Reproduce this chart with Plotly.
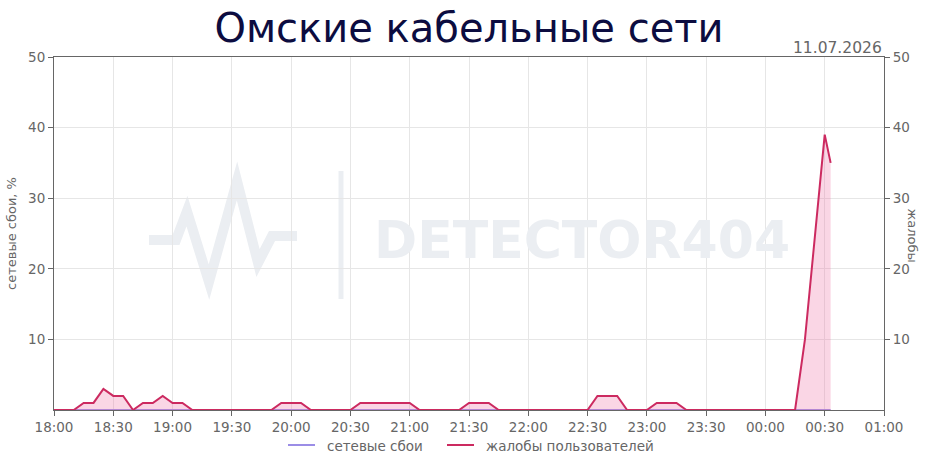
import plotly.graph_objects as go

# time stamps (every 5 minutes, last sample at 00:33)
times = [
    "2026-07-11 18:00", "2026-07-11 18:05", "2026-07-11 18:10", "2026-07-11 18:15",
    "2026-07-11 18:20", "2026-07-11 18:25", "2026-07-11 18:30", "2026-07-11 18:35",
    "2026-07-11 18:40", "2026-07-11 18:45", "2026-07-11 18:50", "2026-07-11 18:55",
    "2026-07-11 19:00", "2026-07-11 19:05", "2026-07-11 19:10", "2026-07-11 19:15",
    "2026-07-11 19:20", "2026-07-11 19:25", "2026-07-11 19:30", "2026-07-11 19:35",
    "2026-07-11 19:40", "2026-07-11 19:45", "2026-07-11 19:50", "2026-07-11 19:55",
    "2026-07-11 20:00", "2026-07-11 20:05", "2026-07-11 20:10", "2026-07-11 20:15",
    "2026-07-11 20:20", "2026-07-11 20:25", "2026-07-11 20:30", "2026-07-11 20:35",
    "2026-07-11 20:40", "2026-07-11 20:45", "2026-07-11 20:50", "2026-07-11 20:55",
    "2026-07-11 21:00", "2026-07-11 21:05", "2026-07-11 21:10", "2026-07-11 21:15",
    "2026-07-11 21:20", "2026-07-11 21:25", "2026-07-11 21:30", "2026-07-11 21:35",
    "2026-07-11 21:40", "2026-07-11 21:45", "2026-07-11 21:50", "2026-07-11 21:55",
    "2026-07-11 22:00", "2026-07-11 22:05", "2026-07-11 22:10", "2026-07-11 22:15",
    "2026-07-11 22:20", "2026-07-11 22:25", "2026-07-11 22:30", "2026-07-11 22:35",
    "2026-07-11 22:40", "2026-07-11 22:45", "2026-07-11 22:50", "2026-07-11 22:55",
    "2026-07-11 23:00", "2026-07-11 23:05", "2026-07-11 23:10", "2026-07-11 23:15",
    "2026-07-11 23:20", "2026-07-11 23:25", "2026-07-11 23:30", "2026-07-11 23:35",
    "2026-07-11 23:40", "2026-07-11 23:45", "2026-07-11 23:50", "2026-07-11 23:55",
    "2026-07-12 00:00", "2026-07-12 00:05", "2026-07-12 00:10", "2026-07-12 00:15",
    "2026-07-12 00:20", "2026-07-12 00:25", "2026-07-12 00:30", "2026-07-12 00:33",
]

complaints = [
    0, 0, 0, 1, 1, 3, 2, 2, 0, 1, 1, 2,
    1, 1, 0, 0, 0, 0, 0, 0, 0, 0, 0, 1,
    1, 1, 0, 0, 0, 0, 0, 1, 1, 1, 1, 1,
    1, 0, 0, 0, 0, 0, 1, 1, 1, 0, 0, 0,
    0, 0, 0, 0, 0, 0, 0, 2, 2, 2, 0, 0,
    0, 1, 1, 1, 0, 0, 0, 0, 0, 0, 0, 0,
    0, 0, 0, 0, 10, 24, 39, 35,
]

outages = [0] * len(times)

y_ticks = [10, 20, 30, 40, 50]
x_ticks = ["2026-07-11 18:00", "2026-07-11 18:30", "2026-07-11 19:00", "2026-07-11 19:30",
           "2026-07-11 20:00", "2026-07-11 20:30", "2026-07-11 21:00", "2026-07-11 21:30",
           "2026-07-11 22:00", "2026-07-11 22:30", "2026-07-11 23:00", "2026-07-11 23:30",
           "2026-07-12 00:00", "2026-07-12 00:30", "2026-07-12 01:00"]
x_labels = ["18:00", "18:30", "19:00", "19:30", "20:00", "20:30", "21:00", "21:30",
            "22:00", "22:30", "23:00", "23:30", "00:00", "00:30", "01:00"]

series_names = ["сетевые сбои", "жалобы пользователей"]
series_colors = ["#9b8de6", "#cc2a60"]

grey = "#666666"
W, H = 938, 468
L, R, T, B = 54, 54, 57, 58
pw, ph = W - L - R, H - T - B


def px(x, y):
    # pixel position -> paper coords
    return (x - L) / pw, (H - B - y) / ph


fig = go.Figure()

fig.add_trace(go.Scatter(
    x=times, y=complaints, mode="none", fill="tozeroy",
    fillcolor="rgba(240,120,170,0.30)", yaxis="y2", hoverinfo="skip",
))
fig.add_trace(go.Scatter(
    x=times, y=outages, name=series_names[0], mode="lines",
    line=dict(color=series_colors[0], width=2), yaxis="y",
))
fig.add_trace(go.Scatter(
    x=times, y=complaints, name=series_names[1], mode="lines",
    line=dict(color=series_colors[1], width=2), yaxis="y2",
))

# watermark logo
pulse = [(149, 240), (176, 240), (187, 211), (209, 282), (237, 181), (258, 263), (272, 236), (297, 236)]
path = ""
for i, (a, b) in enumerate(pulse):
    xx, yy = px(a, b)
    path += ("M" if i == 0 else "L") + f"{xx:.4f},{yy:.4f} "
wm = "#ebeef2"
fig.add_shape(type="path", path=path, xref="paper", yref="paper",
              line=dict(color=wm, width=10), layer="below")
x0, y0 = px(341, 171)
x1, y1 = px(341, 299)
fig.add_shape(type="line", x0=x0, y0=y0, x1=x1, y1=y1, xref="paper", yref="paper",
              line=dict(color=wm, width=5), layer="below")
tx, ty = px(582, 240)
fig.add_annotation(text="<b>DETECTOR404</b>", x=tx, y=ty, xref="paper", yref="paper",
                   showarrow=False, font=dict(size=52, color=wm, family="DejaVu Sans"))

fig.add_annotation(text="11.07.2026", x=1, y=1, xref="paper", yref="paper",
                   xanchor="right", yanchor="bottom", showarrow=False, yshift=-2,
                   font=dict(size=15.5, color=grey))
ax, ay = px(922, 235)
fig.add_annotation(text="жалобы", x=ax, y=ay, xref="paper", yref="paper", textangle=90,
                   showarrow=False, font=dict(size=13, color=grey))

# legend drawn by hand so it doesn't push the bottom margin
for name, color, lx in zip(series_names, series_colors, [288, 447]):
    a0, ly = px(lx, 445)
    a1, _ = px(lx + 27, 445)
    fig.add_shape(type="line", x0=a0, x1=a1, y0=ly, y1=ly, xref="paper", yref="paper",
                  line=dict(color=color, width=2))
    t0, ty2 = px(lx + 37, 446)
    fig.add_annotation(text=name, x=t0, y=ty2, xref="paper", yref="paper", xanchor="left",
                       yanchor="middle", showarrow=False, font=dict(size=13.5, color=grey))

axis_common = dict(range=[0, 50], tickvals=y_ticks, showgrid=True, gridcolor="#e6e6e6",
                   showline=True, linecolor=grey, ticks="outside", ticklen=5,
                   tickcolor=grey, tickfont=dict(size=13.5, color=grey), zeroline=False)

fig.update_layout(
    width=W, height=H,
    margin=dict(l=L, r=R, t=T, b=B),
    showlegend=False,
    paper_bgcolor="white", plot_bgcolor="white",
    font=dict(family="DejaVu Sans", color=grey),
    title=dict(text="Омские кабельные сети", x=0.5, xanchor="center", y=0.94, yanchor="middle",
               font=dict(size=40, color="#0c0c40")),
    xaxis=dict(type="date", range=["2026-07-11 18:00", "2026-07-12 01:00"],
               tickvals=x_ticks, ticktext=x_labels, showgrid=True, gridcolor="#e6e6e6",
               showline=True, linecolor=grey, mirror=True, ticks="outside", ticklen=5,
               tickcolor=grey, tickfont=dict(size=13.5, color=grey)),
    yaxis=dict(title=dict(text="сетевые сбои, %", font=dict(size=13, color=grey), standoff=8),
               **axis_common),
    yaxis2=dict(overlaying="y", side="right", **axis_common),
)

fig.write_html("out.html", config={"displayModeBar": False},
               post_script="document.body.style.margin='0';document.body.style.overflow='hidden';")
